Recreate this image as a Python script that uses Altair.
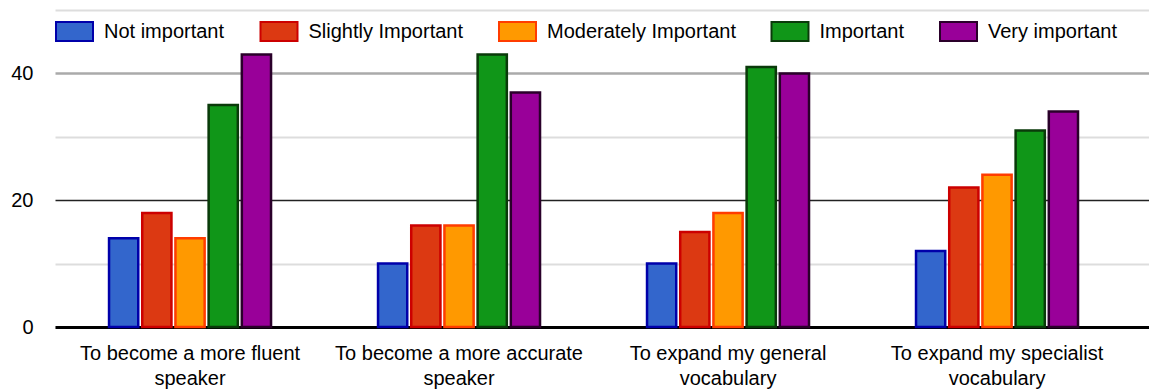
import altair as alt
import pandas as pd

# Survey: how important is each goal?
goals = [
    "To become a more fluent speaker",
    "To become a more accurate speaker",
    "To expand my general vocabulary",
    "To expand my specialist vocabulary",
]
levels = ["Not important", "Slightly Important", "Moderately Important", "Important", "Very important"]

not_important = [14, 10, 10, 12]
slightly_important = [18, 16, 15, 22]
moderately_important = [14, 16, 18, 24]
important = [35, 43, 41, 31]
very_important = [43, 37, 40, 34]

fill_colors = ["#3366cc", "#dc3912", "#ff9900", "#109618", "#990099"]
edge_colors = ["#0000aa", "#cc0000", "#ff3c00", "#0a3a0a", "#2a002a"]

series = [not_important, slightly_important, moderately_important, important, very_important]
rows = []
for level, values in zip(levels, series):
    for goal, v in zip(goals, values):
        rows.append({"goal": goal, "level": level, "count": v})
df = pd.DataFrame(rows)

FONT = "Liberation Sans"
swatch = "M-1,-0.51L1,-0.51L1,0.51L-1,0.51Z"

legend = alt.Legend(
    title=None,
    orient="none",
    legendX=0,
    legendY=2,
    direction="horizontal",
    symbolType=swatch,
    symbolSize=1369,
    symbolStrokeWidth=2,
    symbolOpacity=1,
    labelFontSize=20,
    labelFont=FONT,
    labelColor="black",
    labelOffset=10,
    labelLimit=300,
    columnPadding=31.5,
)

chart = (
    alt.Chart(df)
    .mark_bar(strokeWidth=2.5, opacity=1)
    .encode(
        x=alt.X(
            "goal:N",
            sort=goals,
            scale=alt.Scale(paddingInner=0.383, paddingOuter=0.225, align=0.43),
            axis=alt.Axis(
                title=None,
                labelAngle=0,
                ticks=False,
                grid=False,
                domainColor="black",
                domainWidth=3,
                labelFontSize=20,
                labelFont=FONT,
                labelColor="black",
                labelPadding=16,
                labelLineHeight=25,
                labelLimit=400,
                labelExpr="[slice(datum.label, 0, lastindexof(datum.label, ' ')), slice(datum.label, lastindexof(datum.label, ' ') + 1)]",
            ),
        ),
        xOffset=alt.XOffset(
            "level:N", sort=levels, scale=alt.Scale(paddingInner=0.12, paddingOuter=0.06)
        ),
        y=alt.Y(
            "count:Q",
            scale=alt.Scale(domain=[0, 50], nice=False),
            axis=alt.Axis(
                title=None,
                values=[0, 10, 20, 30, 40, 50],
                domain=False,
                ticks=False,
                labelExpr="datum.value % 20 === 0 ? datum.label : ''",
                labelFontSize=20,
                labelFont=FONT,
                labelColor="black",
                labelPadding=22,
                gridColor={
                    "condition": [
                        {"test": "datum.value === 20", "value": "#222222"},
                        {"test": "datum.value === 40", "value": "#aaaaaa"},
                    ],
                    "value": "#dddddd",
                },
                gridWidth={
                    "condition": [
                        {"test": "datum.value === 20", "value": 1.5},
                        {"test": "datum.value === 40", "value": 2.5},
                    ],
                    "value": 2,
                },
                gridOpacity=1,
            ),
        ),
        fill=alt.Fill("level:N", sort=levels, scale=alt.Scale(domain=levels, range=fill_colors), legend=legend),
        stroke=alt.Stroke("level:N", sort=levels, scale=alt.Scale(domain=levels, range=edge_colors), legend=legend),
    )
    .properties(
        width=1094,
        height=317,
        autosize=alt.AutoSizeParams(type="none"),
        padding={"left": 55, "top": 10, "right": 0, "bottom": 62},
        background="white",
    )
    .configure(font=FONT)
    .configure_view(strokeWidth=0)
)

chart.save("out.html", embed_options={"renderer": "svg", "actions": False})
